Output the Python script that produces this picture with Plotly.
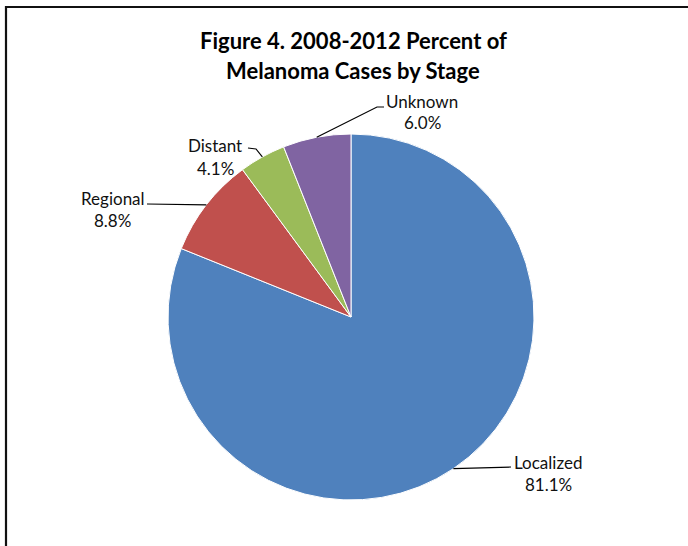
import math
import plotly.graph_objects as go

# Melanoma cases by stage, 2008-2012 (percent)
stages = ["Localized", "Regional", "Distant", "Unknown"]
percents = [81.1, 8.8, 4.1, 6.0]
colors = ["#4F81BD", "#C0504D", "#9BBB59", "#8064A2"]

title_lines = ["Figure 4. 2008-2012 Percent of", "Melanoma Cases by Stage"]

W, H = 688, 546
CX, CY, R = 351, 317, 183  # pie centre and radius in pixels

# label anchor (pixel) and leader-line elbow points for each stage
label_pos = {
    "Localized": dict(x=548, y=462, path=[(511, 467)]),
    "Regional": dict(x=113, y=198, path=[(147, 204)]),
    "Distant": dict(x=215, y=146, path=[(256, 149), (248, 148)]),
    "Unknown": dict(x=422, y=101, path=[(377, 107), (384, 107)]),
}


def px(x):
    return x / W


def py(y):
    return 1 - y / H


fig = go.Figure(
    go.Pie(
        labels=stages,
        values=percents,
        sort=False,
        direction="clockwise",
        rotation=0,
        marker=dict(colors=colors, line=dict(color="white", width=1)),
        textinfo="none",
        hoverinfo="label+percent",
        domain=dict(x=[px(CX - R), px(CX + R)], y=[py(CY + R), py(CY - R)]),
        showlegend=False,
    )
)

shapes = []
annotations = []

# leader lines start at the middle of each slice's arc
total = sum(percents)
cum = 0.0
for name, val in zip(stages, percents):
    mid = (cum + val / 2) / total * 2 * math.pi
    cum += val
    sx = CX + R * math.sin(mid)
    sy = CY - R * math.cos(mid)
    pts = [(sx, sy)] + label_pos[name]["path"]
    d = "M " + " L ".join(f"{px(x):.5f},{py(y):.5f}" for x, y in pts)
    shapes.append(dict(type="path", xref="paper", yref="paper", path=d,
                       line=dict(color="#000000", width=1.2)))
    lp = label_pos[name]
    annotations.append(dict(x=px(lp["x"]), y=py(lp["y"]), xref="paper", yref="paper",
                            text=name, showarrow=False, xanchor="center", yanchor="middle",
                            font=dict(family="Lato", size=17, color="#111111")))
    annotations.append(dict(x=px(lp["x"]), y=py(lp["y"] + 22), xref="paper", yref="paper",
                            text=f"{val:.1f}%", showarrow=False, xanchor="center",
                            yanchor="middle",
                            font=dict(family="Lato", size=17, color="#111111")))

# two-line chart title
for i, line in enumerate(title_lines):
    annotations.append(dict(x=px(353), y=py(41 + 30 * i), xref="paper", yref="paper",
                            text=f"<b>{line}</b>", showarrow=False, xanchor="center",
                            yanchor="middle",
                            font=dict(family="Lato", size=22, color="#000000")))

# chart-area frame
shapes.append(dict(type="rect", xref="paper", yref="paper",
                   x0=px(6), y0=py(H + 20), x1=px(W + 20), y1=py(7),
                   line=dict(color="#111111", width=2.2), fillcolor="rgba(0,0,0,0)"))

fig.update_layout(
    width=W,
    height=H,
    margin=dict(l=0, r=0, t=0, b=0),
    paper_bgcolor="white",
    plot_bgcolor="white",
    shapes=shapes,
    annotations=annotations,
)

fig.write_html("out.html")
